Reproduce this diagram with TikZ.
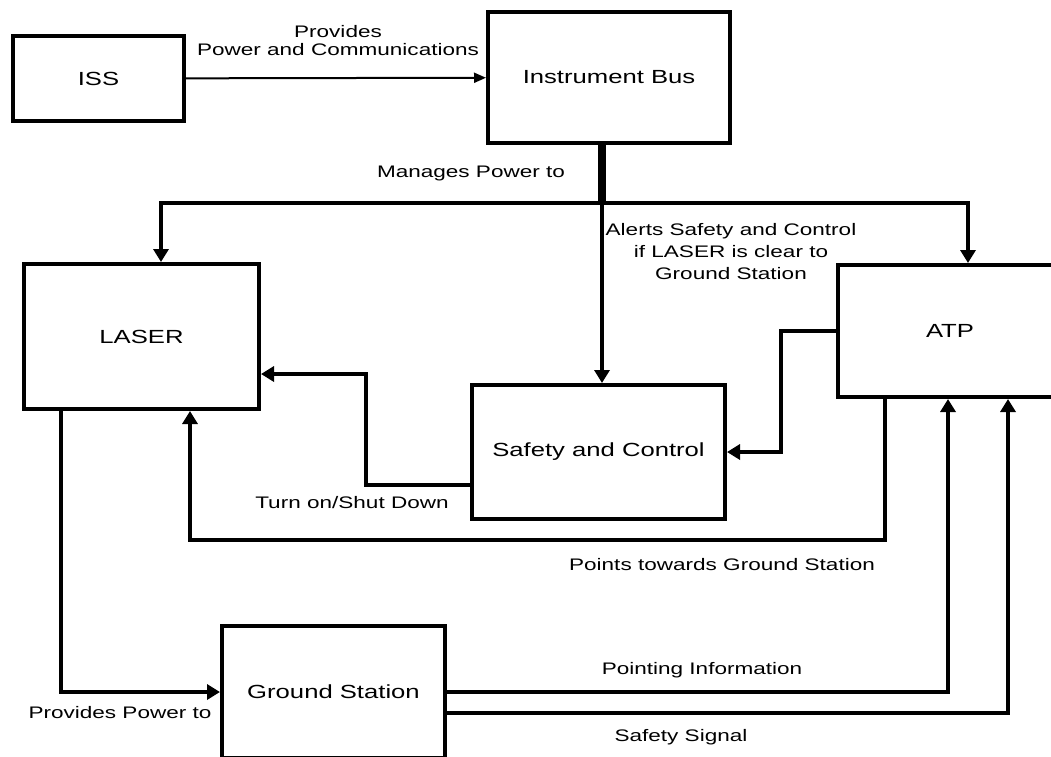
\documentclass[tikz,border=0pt]{standalone}
\usepackage{fontspec}
\setmainfont{Liberation Sans}[FakeStretch=1.35]
\usetikzlibrary{arrows.meta,calc}

\tikzset{
  box/.style={draw, line width=4pt, inner sep=0pt,
    font=\fontsize{19}{22}\selectfont},
  lbl/.style={inner sep=0pt, align=center,
    font=\fontsize{16.7}{22}\selectfont},
  link/.style={->, line width=4.5pt}
}

\begin{document}
\begin{tikzpicture}[x=1pt,y=-1pt,>={Triangle[width=15pt,length=13pt]}]
\clip (0,0) rectangle (1051,756);
\node[box,minimum width=171pt,minimum height=85pt] (iss) at (98.5,78.5) {ISS};
\node[box,minimum width=242pt,minimum height=131pt] (bus) at (609,77.5) {Instrument Bus};
\node[box,minimum width=235pt,minimum height=145pt] (laser) at (141.5,336.5) {LASER};
\node[box,minimum width=224pt,minimum height=132pt] (atp) at (950,331) {ATP};
\node[box,minimum width=253pt,minimum height=134pt] (safety) at (598.5,452) {Safety and Control};
\node[box,minimum width=223pt,minimum height=132pt] (gs) at (333.5,692) {Ground Station};
\coordinate (split) at (602,203);

\path[->]
(iss) edge[line width=2pt,>={Triangle[width=10pt,length=12pt]}] (bus);
\draw[line width=8pt] (bus.south -| split) -- (split);
\draw[link] (split) -| ($(laser.north)+(19.5,0)$);
\draw[link] (split) -| ($(atp.north)+(18,0)$);
\draw[link] (split) -- (split |- safety.north);
\draw[link] (atp.west) -- ++(-55,0) |- (safety.east);
\draw[link] ($(safety.west)+(0,33)$) -- ++(-104,0) |- ($(laser.east)+(0,37.5)$);
\draw[link] ($(atp.south)+(-65,0)$) -- ++(0,141) -| ($(laser.south)+(48.5,0)$);
\draw[link] ($(laser.south)+(-80.5,0)$) |- (gs.west);
\draw[link] (gs.east) -| ($(atp.south)+(-2,0)$);
\draw[link] ($(gs.east)+(0,21)$) -| ($(atp.south)+(58,0)$);

\node[lbl] (lprov) at (338,41) {Provides\\[-4pt]Power and Communications};
\node[lbl] (lmanage) at (471,173) {Manages Power to};
\node[lbl] (lalert) at (731,252) {Alerts Safety and Control\\if LASER is clear to\\Ground Station};
\node[lbl] (lturn) at (352,503) {Turn on/Shut Down};
\node[lbl] (lpoint) at (722,565) {Points towards Ground Station};
\node[lbl] (linfo) at (702,670) {Pointing Information};
\node[lbl] (lsig) at (681,737) {Safety Signal};
\node[lbl] (lpower) at (120,713) {Provides Power to};
\end{tikzpicture}
\end{document}
